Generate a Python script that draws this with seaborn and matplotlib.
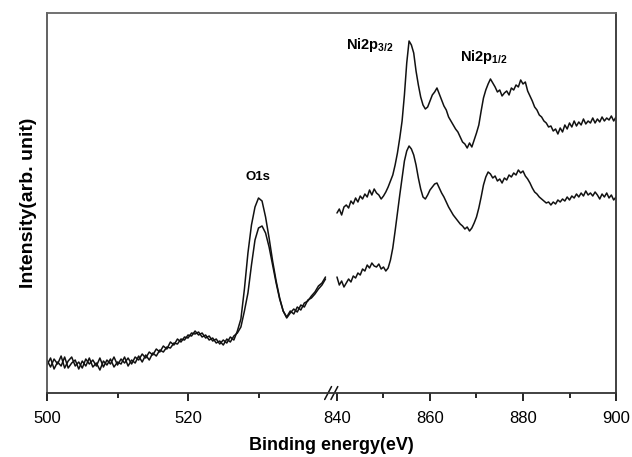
import numpy as np
import pandas as pd
import matplotlib
matplotlib.use("Agg")
import matplotlib.pyplot as plt
import seaborn as sns
from matplotlib.ticker import FixedLocator, NullFormatter

# energy grids (eV) for the two measured windows
energy_o = np.arange(500, 540, 0.5)
energy_ni = np.arange(840, 900.5, 0.5)

# spectrum a (higher O1s peak, upper Ni2p trace)
o1s_a = [28, 35, 24, 31, 27, 36, 25, 30, 33, 24, 32, 27, 35, 26, 30, 23, 32, 28, 34, 26,
         31, 29, 36, 27, 33, 30, 37, 31, 38, 33, 40, 37, 43, 41, 46, 45, 50, 49, 54, 53,
         58, 57, 62, 58, 60, 55, 57, 52, 54, 49, 53, 50, 56, 53, 62, 74, 104, 140, 168, 186,
         195, 192, 176, 155, 132, 112, 95, 82, 76, 82, 79, 86, 83, 90, 92, 97, 101, 107, 110, 116]
ni2p_a = [180, 184, 178, 186, 188, 185, 192, 189, 195, 191, 197, 194, 199, 196, 203, 198, 204, 200, 198, 194,
          197, 201, 206, 212, 218, 228, 240, 255, 272, 298, 330, 352, 348, 340, 322, 308, 296, 288, 284, 286,
          292, 298, 301, 305, 299, 293, 287, 283, 276, 272, 268, 264, 261, 256, 251, 249, 245, 250, 246, 253,
          260, 268, 282, 295, 303, 309, 314, 310, 306, 301, 303, 297, 300, 302, 298, 305, 303, 308, 306, 313,
          309, 311, 302, 297, 292, 286, 283, 278, 276, 272, 270, 266, 267, 262, 264, 259, 265, 261, 268, 264,
          270, 266, 272, 267, 271, 268, 274, 269, 272, 270, 275, 270, 274, 271, 276, 272, 275, 273, 277, 272, 276]

# spectrum b (lower O1s peak, lower Ni2p trace)
o1s_b = [33, 26, 34, 29, 37, 25, 32, 36, 27, 31, 25, 34, 29, 33, 27, 35, 26, 33, 29, 36,
         28, 34, 30, 35, 29, 36, 33, 39, 35, 41, 38, 44, 41, 47, 44, 51, 48, 54, 51, 56,
         55, 60, 59, 61, 56, 58, 53, 55, 50, 52, 48, 54, 51, 57, 60, 66, 82, 100, 128, 153,
         165, 167, 160, 146, 128, 110, 94, 82, 75, 80, 84, 81, 88, 86, 93, 95, 99, 104, 108, 114]
ni2p_b = [116, 108, 112, 106, 110, 114, 111, 117, 115, 120, 118, 124, 122, 128, 125, 130, 127, 126, 129, 124,
          126, 122, 125, 133, 145, 162, 180, 198, 215, 232, 242, 247, 244, 238, 228, 215, 204, 196, 194, 198,
          203, 206, 209, 210, 205, 200, 196, 191, 186, 182, 178, 175, 172, 169, 167, 164, 166, 162, 165, 170,
          176, 185, 196, 208, 216, 221, 219, 215, 217, 212, 214, 210, 215, 213, 218, 216, 220, 218, 223, 220,
          222, 217, 214, 210, 205, 201, 199, 196, 194, 192, 190, 191, 188, 191, 189, 193, 191, 194, 192, 196,
          193, 197, 195, 199, 196, 200, 197, 202, 198, 200, 197, 201, 198, 194, 199, 196, 200, 195, 198, 193, 196]

tick_major = [500, 520, 840, 860, 880, 900]
tick_minor = [510, 530, 850, 870, 890]

frames = []
for name, yo, yn in [("a", o1s_a, ni2p_a), ("b", o1s_b, ni2p_b)]:
    frames.append(pd.DataFrame({"energy": energy_o, "intensity": yo, "sample": name, "seg": name + "_o"}))
    frames.append(pd.DataFrame({"energy": energy_ni, "intensity": yn, "sample": name, "seg": name + "_ni"}))
df = pd.concat(frames, ignore_index=True)

sns.set_style("white")
plt.rcParams["font.family"] = ["Liberation Sans", "DejaVu Sans"]
plt.rcParams["mathtext.fontset"] = "custom"
plt.rcParams["mathtext.bf"] = "Liberation Sans:bold"
plt.rcParams["mathtext.rm"] = "Liberation Sans"
plt.rcParams["text.color"] = "black"
plt.rcParams["axes.labelcolor"] = "black"
plt.rcParams["xtick.color"] = "black"


# broken axis: 500-540 and 840-900 squeezed onto one scale
def fwd(x):
    return np.interp(x, [500, 540, 840, 900], [0, 40, 41.13, 80.71])


def inv(u):
    return np.interp(u, [0, 40, 41.13, 80.71], [500, 540, 840, 900])


fig = plt.figure(figsize=(6.32, 4.57), dpi=100)
ax = fig.add_axes([0.0744, 0.140, 0.9003, 0.8316])
ax.set_xscale("function", functions=(fwd, inv))

sns.lineplot(data=df, x="energy", y="intensity", hue="sample", units="seg",
             estimator=None, palette=["#111111", "#111111"], lw=1.1,
             legend=False, ax=ax)

ax.set_xlim(500, 900)
ax.set_ylim(0, 380)
ax.xaxis.set_major_locator(FixedLocator(tick_major))
ax.xaxis.set_minor_locator(FixedLocator(tick_minor))
ax.xaxis.set_minor_formatter(NullFormatter())
ax.set_xticklabels([str(t) for t in tick_major])
ax.set_yticks([])
ax.tick_params(axis="x", which="major", direction="out", length=6, width=1.2,
               labelsize=12, pad=7, bottom=True)
ax.tick_params(axis="x", which="minor", direction="out", length=3.5, width=1.2, bottom=True)

for side in ["left", "right", "top", "bottom"]:
    ax.spines[side].set_color("#333333")
    ax.spines[side].set_linewidth(1.3)
ax.spines["top"].set_color("#666666")
ax.spines["left"].set_color("#555555")

ax.set_xlabel("Binding energy(eV)", fontsize=13, fontweight="bold", labelpad=8)
ax.set_ylabel("Intensity(arb. unit)", fontsize=14, fontweight="bold", labelpad=7)

# break marks on the bottom axis
for c in [0.494, 0.505]:
    ax.plot([c - 0.006, c + 0.006], [-0.017, 0.017], transform=ax.transAxes,
            color="#111111", lw=1.1, clip_on=False)

ax.text(529.9, 216, "O1s", ha="center", va="center", fontsize=9.5, fontweight="bold")
ax.text(847.0, 348, r"$\mathbf{Ni2p_{3/2}}$", ha="center", va="center", fontsize=10.5)
ax.text(871.5, 336, r"$\mathbf{Ni2p_{1/2}}$", ha="center", va="center", fontsize=10.5)

fig.savefig("out.png", dpi=100)
